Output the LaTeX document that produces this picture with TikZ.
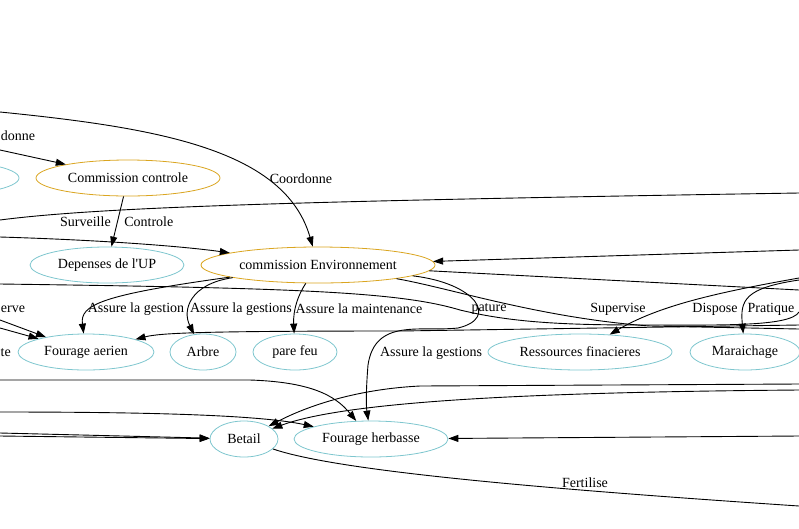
\documentclass[tikz,border=0pt]{standalone}
\usepackage{fontspec}
\setmainfont{Liberation Serif}
\usetikzlibrary{shapes.geometric,arrows.meta}
\definecolor{orcom}{HTML}{DAA520}
\definecolor{cyres}{HTML}{7EC6CE}
\begin{document}
\begin{tikzpicture}[x=1pt,y=-1pt,font=\fontsize{14}{17}\selectfont,
    commission/.style={draw=orcom,ellipse,line width=0.8pt,minimum height=36pt,inner sep=0pt},
    ressource/.style={draw=cyres,ellipse,line width=0.8pt,minimum height=36pt,inner sep=0pt},
    fleche/.style={line width=0.9pt,-{Triangle[length=10pt,width=7pt]}},
    trait/.style={line width=0.9pt},
    bord/.style={anchor=west,inner sep=0pt}]
  \useasboundingbox (0,0) rectangle (799,528);
  \clip (0,0) rectangle (799,528);

  \node[ressource,minimum width=180pt] (autre) at (-71,178) {};
  \node[commission,minimum width=184pt] (controle) at (128,178) {Commission controle};
  \node[ressource,minimum width=154pt] (depenses) at (107,265) {Depenses de l\textquotesingle UP};
  \node[commission,minimum width=234pt] (environnement) at (318,265) {commission Environnement};
  \node[ressource,minimum width=136pt] (aerien) at (86,352) {Fourage aerien};
  \node[ressource,minimum width=66pt] (arbre) at (203,352) {Arbre};
  \node[ressource,minimum width=84pt] (parefeu) at (295,352) {pare feu};
  \node[ressource,minimum width=184pt] (ressources) at (580,352) {Ressources finacieres};
  \node[ressource,minimum width=110pt] (maraichage) at (745,352) {Maraichage};
  \node[ressource,minimum width=68pt] (betail) at (244,439) {Betail};
  \node[ressource,minimum width=154pt] (herbasse) at (371,439) {Fourage herbasse};
  \node[bord] (lte) at (0.5,353) {te};

  \coordinate (g1) at (0,112);
  \coordinate (g2) at (0,150);
  \coordinate (g4) at (0,220);
  \coordinate (d4) at (799,193);
  \coordinate (g5) at (0,237);
  \coordinate (d6) at (799,250);
  \coordinate (d7) at (799,290);
  \coordinate (g8) at (0,284);
  \coordinate (d8) at (799,312);
  \coordinate (d9) at (799,329);
  \coordinate (d10) at (799,325);
  \coordinate (d11) at (799,278);
  \coordinate (d12) at (799,280);
  \coordinate (g13) at (0,320);
  \coordinate (g14) at (0,328);
  \coordinate (g15) at (0,380);
  \coordinate (g16) at (0,412);
  \coordinate (g17) at (0,433);
  \coordinate (g18) at (0,436);
  \coordinate (d19) at (799,384);
  \coordinate (d20) at (799,390);
  \coordinate (d21) at (799,436);
  \coordinate (d22) at (799,506);

  \draw[fleche] (g1) .. controls (160,128) and (285,150) .. (environnement) node (lcoord) at (301,179) {Coordonne};
  \draw[fleche] (g2) -- (controle) node[bord] (ldonne) at (0.5,136) {donne};
  \draw[fleche] (controle) -- (depenses) node[midway,left=3pt] (lsurv) {Surveille} node[midway,right=3pt] (lcontr) {Controle};
  \draw[trait] (g4) .. controls (100,207) and (300,201) .. (d4);
  \draw[fleche] (g5) .. controls (100,240) and (180,246) .. (environnement);
  \draw[fleche] (d6) -- (environnement);
  \draw[trait] (environnement) -- (d7);
  \draw[trait] (g8) .. controls (300,288) and (400,292) .. (460,310) .. controls (510,322) and (560,325) .. (640,325) .. controls (720,325) and (790,327) .. (d8);
  \draw[trait] (environnement) .. controls (450,288) and (540,318) .. (650,326) -- (d9) node (lpature) at (489,309) {pature};
  \draw[fleche] (environnement) .. controls (475,283) and (500,318) .. (458,328) .. controls (420,332) and (375,318) .. (368,365) .. controls (366,390) and (366,405) .. (herbasse) node (lgest3) at (431,353) {Assure la gestions};
  \draw[fleche] (d10) -- (400,331) .. controls (200,331) and (160,333) .. (aerien);
  \draw[fleche] (d11) .. controls (720,292) and (660,305) .. (ressources) node (lsuper) at (618,309) {Supervise};
  \draw[fleche] (d12) .. controls (745,288) and (740,300) .. (maraichage) node (ldispose) at (715,309) {Dispose} node (lpratique) at (771,309) {Pratique};
  \draw[fleche] (environnement) .. controls (100,295) and (80,305) .. (aerien) node (lgest1) at (136,309) {Assure la gestion};
  \draw[fleche] (environnement) .. controls (190,284) and (182,310) .. (arbre) node (lgest2) at (241,309) {Assure la gestions};
  \draw[fleche] (environnement) .. controls (298,295) and (293,310) .. (parefeu) node (lmaint) at (359,309) {Assure la maintenance};
  \draw[fleche] (g13) -- (aerien) node[bord] (lerve) at (0.5,309) {erve};
  \draw[fleche] (g14) -- (aerien);

  \draw[fleche] (g15) -- (250,380) .. controls (310,382) and (335,395) .. (herbasse);
  \draw[fleche] (g16) .. controls (150,412) and (260,415) .. (herbasse);
  \draw[fleche] (g17) -- (betail);
  \draw[fleche] (g18) -- (betail);
  \draw[fleche] (d19) -- (420,386) .. controls (340,390) and (290,415) .. (betail);
  \draw[fleche] (d20) .. controls (550,392) and (350,400) .. (betail);
  \draw[fleche] (d21) -- (herbasse);
  \draw[trait] (betail) .. controls (340,472) and (560,490) .. (d22) node (lfert) at (585,483) {Fertilise};
\end{tikzpicture}
\end{document}
